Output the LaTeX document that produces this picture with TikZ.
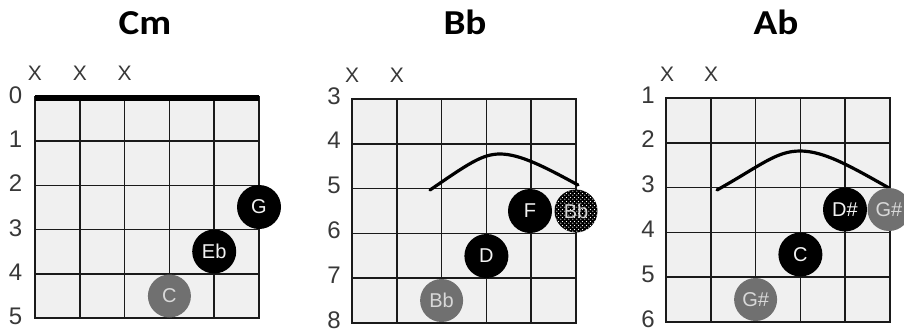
\documentclass[tikz,border=0pt]{standalone}
\usepackage{fontspec}
\usepackage{graphicx}
\setmainfont{Liberation Sans}
\newfontfamily\titlefont{Carlito}
\usetikzlibrary{patterns}
\pgfdeclarepatternformonly{sparsedots}{\pgfpointorigin}{\pgfpoint{4pt}{4pt}}{\pgfpoint{4pt}{4pt}}{%
  \pgfpathcircle{\pgfpoint{1pt}{1pt}}{0.75pt}%
  \pgfpathcircle{\pgfpoint{3pt}{3pt}}{0.75pt}%
  \pgfusepath{fill}}
\definecolor{gridfill}{HTML}{F0F0F0}
\definecolor{gridline}{HTML}{1A1A1A}
\definecolor{labelgrey}{HTML}{383838}
\definecolor{dotgrey}{HTML}{707070}
\definecolor{dotgreytext}{HTML}{D8D8D8}
\definecolor{dotblacktext}{HTML}{F2F2F2}
\tikzset{
  gridln/.style={draw=gridline, line width=1.7pt},
  gridborder/.style={draw=gridline, line width=2.2pt},
  fretnum/.style={anchor=base, inner sep=0pt, text=labelgrey, font=\fontsize{24}{24}\selectfont},
  xmark/.style={anchor=base, inner sep=0pt, text=labelgrey, font=\fontsize{21}{21}\selectfont},
  title/.style={anchor=base, inner sep=0pt, font=\titlefont\bfseries\fontsize{35}{35}\selectfont},
  blackdot/.style={circle, fill=black, inner sep=0pt, minimum size=44pt, text=dotblacktext, font=\fontsize{20}{20}\selectfont},
  greydot/.style={circle, fill=dotgrey, inner sep=0pt, minimum size=43pt, text=dotgreytext, font=\fontsize{20}{20}\selectfont},
  stipdot/.style={circle, fill=black, inner sep=0pt, minimum size=43pt, text=dotgreytext, font=\fontsize{20}{20}\selectfont,
    postaction={pattern=sparsedots, pattern color=white}},
  barre/.style={draw=black, line width=3.2pt, line cap=round, line join=round},
  nutbar/.style={draw=black, line width=6pt},
}
\begin{document}
\begin{tikzpicture}[x=1pt, y=-1pt]
\useasboundingbox (0,0) rectangle (904,332);
% grids
\foreach \xo/\yo/\h in {35/97/44.2, 352/99/44.8, 666/98/44.8}{
  \fill[gridfill] (\xo,\yo) rectangle ++(224,5*\h);
  \foreach \i in {1,...,4}{
    \draw[gridln] (\xo+\i*44.8,\yo) -- ++(0,5*\h);
    \draw[gridln] (\xo,\yo+\i*\h) -- ++(224,0);
  }
  \draw[gridborder] (\xo,\yo) rectangle ++(224,5*\h);
}
% nut for Cm
\coordinate (cmnutL) at (35,98);
\coordinate (cmnutR) at (259,98);
\draw[nutbar] (cmnutL) -- (cmnutR);
% titles
\node[title] (tcm) at (145,34) {\scalebox{1.12}[1]{Cm}};
\node[title] (tbb) at (465,34) {\scalebox{1.12}[1]{Bb}};
\node[title] (tab) at (776,34) {\scalebox{1.12}[1]{Ab}};
% fret numbers
\foreach \i in {0,...,5}{
  \node[fretnum] (cmf\i) at (15.5,97+\i*44.2+6.5) {\i};
}
\foreach \i [evaluate=\i as \n using int(\i+3)] in {0,...,5}{
  \node[fretnum] (bbf\i) at (334,99+\i*44.8+5) {\n};
}
\foreach \i [evaluate=\i as \n using int(\i+1)] in {0,...,5}{
  \node[fretnum] (abf\i) at (648,98+\i*44.8+5) {\n};
}
% X marks
\node[xmark] (cmx1) at (35,80.5) {X};
\node[xmark] (cmx2) at (79.8,80.5) {X};
\node[xmark] (cmx3) at (124.6,80.5) {X};
\node[xmark] (bbx1) at (352,82.5) {X};
\node[xmark] (bbx2) at (396.8,82.5) {X};
\node[xmark] (abx1) at (667,81.5) {X};
\node[xmark] (abx2) at (711,81.5) {X};
% barres
\coordinate (bbbs) at (430,190);
\coordinate (bbbp) at (500,154);
\coordinate (bbbe) at (578,185);
\draw[barre] (bbbs) .. controls (468,164) and (482,154) .. (bbbp) .. controls (520,154) and (545,167) .. (bbbe);
\coordinate (abbs) at (717,190);
\coordinate (abbp) at (800,151);
\coordinate (abbe) at (889,188);
\draw[barre] (abbs) .. controls (760,166) and (776,151) .. (abbp) .. controls (824,151) and (850,166) .. (abbe);
% dots Cm
\node[blackdot] (cmG) at (259,207) {G};
\node[blackdot] (cmEb) at (214.2,251.5) {Eb};
\node[greydot] (cmC) at (169.4,296) {C};
% dots Bb
\node[blackdot] (bbF) at (530,211) {F};
\node[stipdot] (bbBb1) at (576,211) {Bb};
\node[blackdot] (bbD) at (486.4,256) {D};
\node[greydot] (bbBb2) at (441.6,300.5) {Bb};
% dots Ab
\node[blackdot] (abDs) at (845,209.5) {D\#};
\node[greydot] (abGs1) at (889,209.5) {G\#};
\node[blackdot] (abC) at (800.4,254.5) {C};
\node[greydot] (abGs2) at (755.6,299.5) {G\#};
\end{tikzpicture}
\end{document}
